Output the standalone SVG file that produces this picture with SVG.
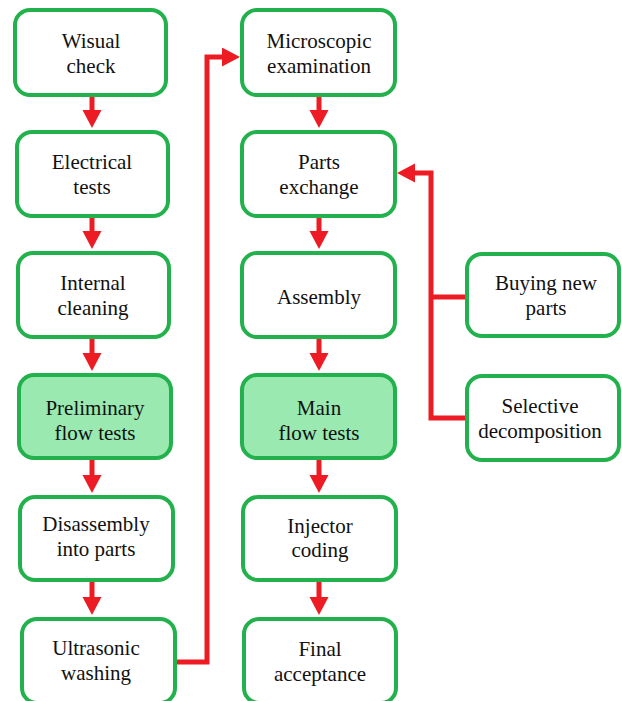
<svg xmlns="http://www.w3.org/2000/svg" width="622" height="701" viewBox="0 0 622 701">
<style>
.box{fill:#ffffff;stroke:#22B14C;stroke-width:4}
.hl{fill:#99E9B0}
.t{font-family:"Liberation Serif","Times New Roman",serif;font-size:21px;fill:#111111;text-anchor:middle}
.c{fill:none;stroke:#ED1C24;stroke-width:5}
</style>
<defs>
<marker id="ah" markerUnits="userSpaceOnUse" markerWidth="20" markerHeight="20" refX="8" refY="9.5" orient="auto" viewBox="0 0 20 20">
<path d="M0,0 L18,9.5 L0,19 z" fill="#ED1C24"/>
</marker>
</defs>
<rect width="622" height="701" fill="#ffffff"/>
<g id="connectors">
<line class="c" x1="92" y1="97" x2="92" y2="118" marker-end="url(#ah)"/>
<line class="c" x1="92" y1="218" x2="92" y2="239" marker-end="url(#ah)"/>
<line class="c" x1="92" y1="339" x2="92" y2="361" marker-end="url(#ah)"/>
<line class="c" x1="92" y1="460" x2="92" y2="483" marker-end="url(#ah)"/>
<line class="c" x1="92" y1="582" x2="92" y2="605" marker-end="url(#ah)"/>
<line class="c" x1="319" y1="97" x2="319" y2="118" marker-end="url(#ah)"/>
<line class="c" x1="319" y1="218" x2="319" y2="239" marker-end="url(#ah)"/>
<line class="c" x1="319" y1="339" x2="319" y2="361" marker-end="url(#ah)"/>
<line class="c" x1="319" y1="460" x2="319" y2="483" marker-end="url(#ah)"/>
<line class="c" x1="319" y1="582" x2="319" y2="605" marker-end="url(#ah)"/>
<polyline class="c" points="177,662 207,662 207,57 230,57" marker-end="url(#ah)"/>
<polyline class="c" points="465,297 431,297"/>
<polyline class="c" points="465,418 431,418 431,173 407,173" marker-end="url(#ah)"/>
</g>
<g id="n1"><rect class="box" x="15" y="10" width="151" height="85" rx="15"/><text class="t" x="91" y="48">Wisual</text><text class="t" x="91" y="73">check</text></g>
<g id="n2"><rect class="box" x="17" y="132" width="151" height="84" rx="15"/><text class="t" x="92" y="169">Electrical</text><text class="t" x="92" y="194">tests</text></g>
<g id="n3"><rect class="box" x="18" y="253" width="151" height="84" rx="15"/><text class="t" x="93" y="290">Internal</text><text class="t" x="93" y="315">cleaning</text></g>
<g id="n4"><rect class="box hl" x="19" y="375" width="152" height="83" rx="15"/><text class="t" x="95" y="415">Preliminary</text><text class="t" x="95" y="440">flow tests</text></g>
<g id="n5"><rect class="box" x="20" y="497" width="153" height="83" rx="15"/><text class="t" x="96" y="531">Disassembly</text><text class="t" x="96" y="556">into parts</text></g>
<g id="n6"><rect class="box" x="22" y="619" width="153" height="84" rx="15"/><text class="t" x="96" y="655">Ultrasonic</text><text class="t" x="96" y="680">washing</text></g>
<g id="n7"><rect class="box" x="242" y="10" width="153" height="85" rx="15"/><text class="t" x="319" y="48">Microscopic</text><text class="t" x="319" y="73">examination</text></g>
<g id="n8"><rect class="box" x="242" y="132" width="153" height="84" rx="15"/><text class="t" x="319" y="169">Parts</text><text class="t" x="319" y="194">exchange</text></g>
<g id="n9"><rect class="box" x="242" y="253" width="153" height="84" rx="15"/><text class="t" x="319" y="304">Assembly</text></g>
<g id="n10"><rect class="box hl" x="242" y="375" width="153" height="83" rx="15"/><text class="t" x="319" y="415">Main</text><text class="t" x="319" y="440">flow tests</text></g>
<g id="n11"><rect class="box" x="243" y="497" width="153" height="83" rx="15"/><text class="t" x="320" y="533">Injector</text><text class="t" x="320" y="557">coding</text></g>
<g id="n12"><rect class="box" x="244" y="619" width="152" height="84" rx="15"/><text class="t" x="320" y="656">Final</text><text class="t" x="320" y="681">acceptance</text></g>
<g id="n13"><rect class="box" x="467" y="254" width="152" height="82" rx="15"/><text class="t" x="546" y="290">Buying new</text><text class="t" x="546" y="315">parts</text></g>
<g id="n14"><rect class="box" x="467" y="376" width="152" height="84" rx="15"/><text class="t" x="540" y="413">Selective</text><text class="t" x="540" y="438">decomposition</text></g>
</svg>
